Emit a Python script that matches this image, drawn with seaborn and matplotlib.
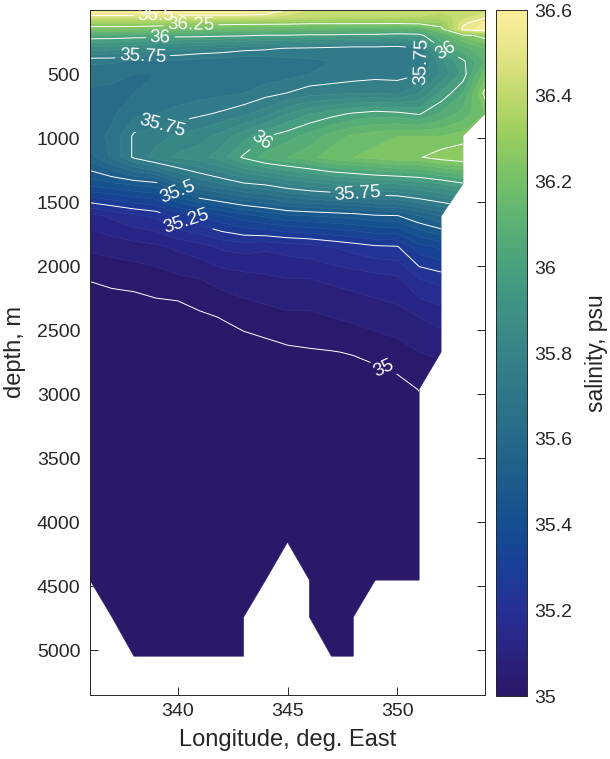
import numpy as np
import matplotlib
matplotlib.use("Agg")
import matplotlib.pyplot as plt
import seaborn as sns
from matplotlib.colors import LinearSegmentedColormap, Normalize
from matplotlib.cm import ScalarMappable
from matplotlib.ticker import FormatStrFormatter

nan = np.nan

# ---------------- data ----------------
longitude = [336, 337, 338, 339, 340, 341, 342, 343, 344, 345,
             346, 347, 348, 349, 350, 351, 352, 353, 354]
depth = [0, 50, 100, 150, 200, 300, 400, 500, 650, 812, 984, 1150, 1359,
         1609, 1850, 2100, 2400, 2672, 2961, 3250, 3550, 3850, 4156, 4453,
         4742, 5047]

# salinity (psu) rows, one per depth level, columns follow `longitude`
sal_d0000 = [36.62, 36.62, 36.62, 36.62, 36.62, 36.62, 36.62, 36.62, 36.60, 36.49,
             36.45, 36.44, 36.43, 36.43, 36.43, 36.43, 36.42, 36.42, 36.44]
sal_d0050 = [36.48, 36.48, 36.48, 36.48, 36.47, 36.47, 36.47, 36.47, 36.46, 36.44,
             36.42, 36.41, 36.40, 36.40, 36.40, 36.40, 36.38, 36.42, 36.48]
sal_d0100 = [36.31, 36.31, 36.32, 36.31, 36.30, 36.30, 36.29, 36.28, 36.28, 36.28,
             36.27, 36.27, 36.27, 36.27, 36.27, 36.28, 36.30, 36.48, 36.56]
sal_d0150 = [36.21, 36.21, 36.20, 36.19, 36.18, 36.17, 36.16, 36.16, 36.15, 36.14,
             36.13, 36.13, 36.12, 36.12, 36.10, 36.10, 36.22, 36.52, 36.58]
sal_d0200 = [36.04, 36.04, 36.03, 36.03, 36.02, 36.02, 36.01, 36.005, 35.99, 35.99,
             35.98, 35.98, 35.97, 35.97, 35.96, 35.97, 36.10, 36.22, 36.28]
sal_d0300 = [35.88, 35.87, 35.86, 35.83, 35.82, 35.80, 35.79, 35.77, 35.76, 35.745,
             35.74, 35.73, 35.72, 35.72, 35.71, 35.745, 35.995, 36.08, 36.15]
sal_d0400 = [35.71, 35.71, 35.69, 35.69, 35.69, 35.68, 35.67, 35.66, 35.67, 35.68,
             35.69, 35.70, 35.70, 35.71, 35.72, 35.73, 35.88, 35.99, 36.10]
sal_d0500 = [35.67, 35.66, 35.65, 35.65, 35.66, 35.66, 35.66, 35.66, 35.67, 35.68,
             35.70, 35.71, 35.72, 35.73, 35.73, 35.745, 35.86, 35.97, 36.18]
sal_d0650 = [35.64, 35.64, 35.65, 35.66, 35.67, 35.68, 35.69, 35.70, 35.73, 35.752,
             35.78, 35.79, 35.80, 35.80, 35.79, 35.85, 35.96, 36.05, 36.27]
sal_d0812 = [35.63, 35.64, 35.69, 35.70, 35.72, 35.74, 35.76, 35.79, 35.83, 35.90,
             35.95, 35.98, 36.01, 36.03, 36.02, 35.995, 36.06, 36.12, 36.20]
sal_d0984 = [35.63, 35.66, 35.76, 35.78, 35.81, 35.83, 35.87, 35.93, 35.995, 36.03,
             36.07, 36.12, 36.16, 36.18, 36.20, 36.20, 36.20, 36.22, nan]
sal_d1150 = [35.58, 35.66, 35.76, 35.82, 35.86, 35.88, 35.93, 36.01, 36.07, 36.10,
             36.13, 36.18, 36.20, 36.22, 36.24, 36.245, 36.28, 36.30, nan]
sal_d1359 = [35.42, 35.44, 35.46, 35.48, 35.58, 35.66, 35.70, 35.74, 35.76, 35.80,
             35.83, 35.85, 35.87, 35.89, 35.90, 35.92, 35.95, 35.99, nan]
sal_d1609 = [35.13, 35.16, 35.19, 35.21, 35.27, 35.30, 35.34, 35.38, 35.41, 35.44,
             35.45, 35.46, 35.47, 35.49, 35.495, 35.55, 35.60, nan, nan]
sal_d1850 = [35.06, 35.07, 35.08, 35.09, 35.11, 35.13, 35.16, 35.17, 35.16, 35.17,
             35.18, 35.20, 35.22, 35.24, 35.245, 35.33, 35.36, nan, nan]
sal_d2100 = [35.003, 35.01, 35.015, 35.025, 35.04, 35.05, 35.07, 35.08, 35.09, 35.10,
             35.10, 35.11, 35.12, 35.13, 35.14, 35.20, 35.22, nan, nan]
sal_d2400 = [34.96, 34.97, 34.97, 34.975, 34.97, 34.99, 35.002, 35.02, 35.03, 35.04,
             35.04, 35.05, 35.06, 35.07, 35.08, 35.10, 35.12, nan, nan]
sal_d2672 = [34.94, 34.95, 34.95, 34.95, 34.95, 34.96, 34.97, 34.97, 34.98, 34.99,
             34.995, 34.998, 35.003, 35.02, 35.03, 35.05, 35.06, nan, nan]
sal_d2961 = [34.93, 34.93, 34.93, 34.93, 34.94, 34.94, 34.95, 34.95, 34.96, 34.96,
             34.97, 34.97, 34.97, 34.96, 34.98, 35.002, nan, nan, nan]
sal_d3250 = [34.92, 34.92, 34.92, 34.92, 34.93, 34.93, 34.93, 34.94, 34.94, 34.94,
             34.95, 34.95, 34.95, 34.95, 34.96, 34.97, nan, nan, nan]
sal_d3550 = [34.91, 34.91, 34.91, 34.91, 34.92, 34.92, 34.92, 34.93, 34.93, 34.93,
             34.94, 34.94, 34.94, 34.94, 34.95, 34.95, nan, nan, nan]
sal_d3850 = [34.90, 34.90, 34.90, 34.90, 34.91, 34.91, 34.91, 34.92, 34.92, 34.92,
             34.93, 34.93, 34.93, 34.93, 34.93, 34.94, nan, nan, nan]
sal_d4156 = [34.90, 34.90, 34.90, 34.90, 34.90, 34.90, 34.90, 34.91, 34.91, 34.91,
             34.92, 34.92, 34.92, 34.92, 34.92, 34.93, nan, nan, nan]
sal_d4453 = [34.89, 34.89, 34.89, 34.89, 34.89, 34.89, 34.89, 34.90, 34.90, nan,
             34.91, 34.91, 34.91, 34.91, 34.91, 34.92, nan, nan, nan]
sal_d4742 = [nan, 34.89, 34.89, 34.89, 34.89, 34.89, 34.89, 34.89, nan, nan,
             34.90, 34.90, 34.90, nan, nan, nan, nan, nan, nan]
sal_d5047 = [nan, nan, 34.88, 34.88, 34.88, 34.88, 34.88, 34.88, nan, nan,
             nan, 34.89, 34.89, nan, nan, nan, nan, nan, nan]

salinity_rows = [sal_d0000, sal_d0050, sal_d0100, sal_d0150, sal_d0200, sal_d0300,
                 sal_d0400, sal_d0500, sal_d0650, sal_d0812, sal_d0984, sal_d1150,
                 sal_d1359, sal_d1609, sal_d1850, sal_d2100, sal_d2400, sal_d2672,
                 sal_d2961, sal_d3250, sal_d3550, sal_d3850, sal_d4156, sal_d4453,
                 sal_d4742, sal_d5047]

line_levels = [35, 35.25, 35.5, 35.75, 36, 36.25, 36.5]
cbar_ticks = [35, 35.2, 35.4, 35.6, 35.8, 36, 36.2, 36.4, 36.6]
x_ticks = [340, 345, 350]
y_ticks = [500, 1000, 1500, 2000, 2500, 3000, 3500, 4000, 4500, 5000]
sal_min, sal_max = 35.0, 36.6

# haline-like colour ramp sampled from the reference colour bar
haline_colors = ["#2a1869", "#2a2382", "#263096", "#193f96", "#144e91",
                 "#1c5c8c", "#26698a", "#2e7689", "#368388", "#3e9185",
                 "#48a07e", "#5ab173", "#73c068", "#96cd5f", "#bed969",
                 "#e4e487", "#fcee9b"]

# ---------------- style ----------------
sns.set_theme(style="ticks")
plt.rcParams["font.family"] = ["Liberation Sans", "DejaVu Sans"]
plt.rcParams["axes.edgecolor"] = "#262626"
plt.rcParams["xtick.color"] = "#262626"
plt.rcParams["ytick.color"] = "#262626"

cmap = LinearSegmentedColormap.from_list("haline_like", haline_colors, N=256)
norm = Normalize(vmin=sal_min, vmax=sal_max)

lon_grid, dep_grid = np.meshgrid(np.array(longitude, float), np.array(depth, float))
sal = np.ma.masked_invalid(np.array(salinity_rows, float))

W, H = 610, 759
fig = plt.figure(figsize=(W / 100, H / 100), dpi=100)
ax = fig.add_axes([90 / W, 1 - 695 / H, (485 - 90) / W, (695 - 10) / H])
cax = fig.add_axes([496 / W, 1 - 696 / H, 31 / W, 686 / H])

fill_levels = np.round(np.arange(35.0, 36.6001, 0.05), 2)
cf = ax.contourf(lon_grid, dep_grid, sal, levels=fill_levels, cmap=cmap, norm=norm,
                 extend="both", corner_mask=True, antialiased=True)
cf.set_edgecolor("face")
cf.set_linewidth(0.4)
cs = ax.contour(lon_grid, dep_grid, sal, levels=line_levels, colors="white",
                linewidths=0.7, corner_mask=True)

label_spots = [(339.0, 43), (340.6, 122), (339.2, 214), (338.4, 362),
               (351.1, 400), (352.3, 290), (339.3, 905), (343.7, 1000),
               (340.0, 1415), (348.2, 1462), (340.4, 1640), (349.4, 2790)]
ax.clabel(cs, inline=True, fontsize=13.5, fmt="%g", colors="white",
          inline_spacing=4, manual=label_spots)

ax.set_xlim(336, 354)
ax.set_ylim(5350, 0)
ax.set_xticks(x_ticks)
ax.set_yticks(y_ticks)
ax.tick_params(axis="both", direction="in", top=True, right=True, length=6,
               width=0.7, labelsize=14, colors="#262626")
ax.tick_params(axis="x", pad=6)
ax.tick_params(axis="y", pad=7)
for sp in ax.spines.values():
    sp.set_visible(True)
    sp.set_linewidth(0.7)
    sp.set_color("#262626")
ax.set_xlabel("Longitude, deg. East", fontsize=17, labelpad=6, color="#262626")
ax.set_ylabel("depth, m", fontsize=17, labelpad=8, color="#262626")
ax.set_facecolor("white")

cb = fig.colorbar(ScalarMappable(norm=norm, cmap=cmap), cax=cax)
cb.set_ticks(cbar_ticks)
cb.ax.yaxis.set_major_formatter(FormatStrFormatter("%g"))
cb.ax.tick_params(direction="in", length=6, width=0.7, labelsize=14, pad=5,
                  colors="#262626")
cb.outline.set_linewidth(0.7)
cb.outline.set_edgecolor("#262626")
cb.set_label("salinity, psu", fontsize=16.5, labelpad=9, color="#262626")

fig.savefig("out.png", dpi=100)
